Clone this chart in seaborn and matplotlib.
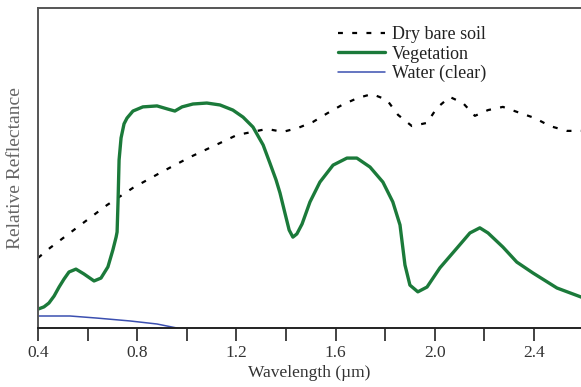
import numpy as np
import pandas as pd
import seaborn as sns
import matplotlib.pyplot as plt
from matplotlib.ticker import MultipleLocator, FuncFormatter

# spectral reflectance curves (relative units, 0-100)
soil_wl = [0.400, 0.448, 0.561, 0.678, 0.783, 0.900, 1.013, 1.134, 1.202, 1.323,
           1.388, 1.448, 1.509, 1.569, 1.626, 1.690, 1.747, 1.807, 1.852, 1.908,
           1.969, 2.009, 2.061, 2.114, 2.162, 2.215, 2.275, 2.344, 2.404, 2.465,
           2.533, 2.600]
soil_refl = [21.9, 25.0, 31.6, 38.4, 43.8, 48.8, 53.4, 57.8, 60.3, 62.2,
             61.3, 62.5, 64.4, 67.2, 69.7, 71.9, 73.1, 71.3, 66.6, 63.1,
             64.1, 68.8, 72.2, 70.3, 66.3, 68.1, 69.1, 67.2, 65.6, 63.1,
             61.6, 61.6]

veg_wl = [0.400, 0.424, 0.444, 0.465, 0.485, 0.505, 0.525, 0.553, 0.585, 0.626,
          0.654, 0.682, 0.702, 0.715, 0.719, 0.723, 0.727, 0.735, 0.747, 0.759,
          0.783, 0.823, 0.880, 0.924, 0.952, 0.981, 1.025, 1.081, 1.134, 1.186,
          1.227, 1.267, 1.308, 1.335, 1.360, 1.376, 1.396, 1.413, 1.428, 1.444,
          1.465, 1.497, 1.537, 1.590, 1.646, 1.686, 1.739, 1.791, 1.831, 1.860,
          1.880, 1.900, 1.932, 1.969, 2.021, 2.090, 2.142, 2.182, 2.215, 2.275,
          2.331, 2.396, 2.493, 2.600]
veg_refl = [5.9, 6.6, 7.8, 10.0, 12.8, 15.3, 17.5, 18.4, 16.9, 14.7,
            15.6, 19.1, 24.4, 28.4, 30.0, 40.0, 52.5, 59.4, 63.8, 65.6,
            67.8, 69.1, 69.4, 68.4, 67.8, 69.1, 70.0, 70.3, 69.7, 68.1,
            65.9, 62.8, 57.2, 51.6, 46.3, 42.2, 35.9, 30.6, 28.4, 29.4,
            32.5, 39.4, 45.6, 50.9, 53.1, 53.1, 50.3, 45.6, 39.4, 32.2,
            19.7, 13.4, 11.3, 12.8, 18.8, 25.0, 29.7, 31.3, 29.7, 25.3,
            20.6, 17.2, 12.5, 9.4]

water_wl = [0.400, 0.448, 0.529, 0.638, 0.771, 0.880, 0.960, 1.000]
water_refl = [3.75, 3.75, 3.75, 3.1, 2.2, 1.25, 0.0, -0.8]

sns.set_style("white")
plt.rcParams["font.family"] = ["Liberation Serif", "DejaVu Serif"]

fig = plt.figure(figsize=(5.81, 3.87), dpi=100)
ax = fig.add_axes([38 / 581, 59 / 387, 1 - 38 / 581, 320 / 387])

sns.lineplot(x=soil_wl, y=soil_refl, ax=ax, color="black", linewidth=1.6,
             dashes=(2.2, 4.2), label="Dry bare soil", estimator=None, sort=False)
sns.lineplot(x=veg_wl, y=veg_refl, ax=ax, color="#1b7a3a", linewidth=2.4,
             label="Vegetation", estimator=None, sort=False,
             solid_joinstyle="round", solid_capstyle="round")
sns.lineplot(x=water_wl, y=water_refl, ax=ax, color="#3b4fb0", linewidth=1.1,
             label="Water (clear)", estimator=None, sort=False)

ax.set_xlim(0.4, 2.59)
ax.set_ylim(0, 100)
ax.set_yticks([])

ax.xaxis.set_major_locator(MultipleLocator(0.2))
ax.xaxis.set_major_formatter(FuncFormatter(
    lambda v, p: f"{v:.1f}" if round(v / 0.2) % 2 == 0 else ""))
ax.tick_params(axis="x", direction="out", length=9, width=1.2, color="#222",
               labelsize=12.5, labelcolor="#333", pad=3, bottom=True)

ax.spines["right"].set_visible(False)
for side in ["left", "top"]:
    ax.spines[side].set_color("#555")
    ax.spines[side].set_linewidth(1.4)
ax.spines["bottom"].set_color("#222")
ax.spines["bottom"].set_linewidth(1.4)

ax.set_xlabel("Wavelength (µm)", fontsize=12.5, color="#333", labelpad=3)
ax.set_ylabel("Relative Reflectance", fontsize=14, color="#666", labelpad=10)

leg = ax.legend(loc="upper left", bbox_to_anchor=(0.54, 0.965), frameon=False,
                fontsize=13, handlelength=2.6, handletextpad=0.35,
                labelspacing=0.12, borderaxespad=0)
for t in leg.get_texts():
    t.set_color("#222")

fig.savefig("out.png", dpi=100)
